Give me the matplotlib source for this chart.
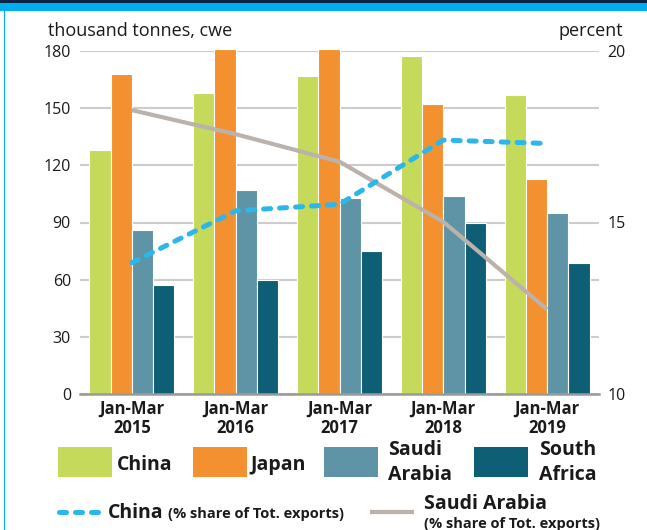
import matplotlib
matplotlib.use("Agg")
import matplotlib.pyplot as plt
import numpy as np
from matplotlib.patches import Rectangle
from matplotlib.lines import Line2D

plt.rcParams['font.family'] = ['Open Sans', 'DejaVu Sans']

# ---- data ----
categories = ['Jan-Mar\n2015', 'Jan-Mar\n2016', 'Jan-Mar\n2017', 'Jan-Mar\n2018', 'Jan-Mar\n2019']
china = [128, 158, 167, 177, 157]
japan = [168, 181, 181, 152, 113]
saudi_arabia = [86, 107, 103, 104, 95]
south_africa = [57, 60, 75, 90, 69]
china_share = [13.83, 15.34, 15.53, 17.40, 17.30]
saudi_share = [18.27, 17.57, 16.77, 15.02, 12.47]
left_ticks = [0, 30, 60, 90, 120, 150, 180]
right_ticks = [10, 15, 20]

series = [china, japan, saudi_arabia, south_africa]
colors = ['#c5d95a', '#f39130', '#5e94a5', '#0e5e75']
names = ['China', 'Japan', 'Saudi\nArabia', 'South\nAfrica']
line_blue = '#2bb7ea'
line_grey = '#bab2ab'
txt = '#1a1a1a'

W, H = 647, 530
fig = plt.figure(figsize=(W / 100, H / 100), dpi=100)

def fx(px):
    return px / W

def fy(py):
    return 1 - py / H

ax = fig.add_axes([fx(80), fy(394.3), fx(599) - fx(80), fy(50.7) - fy(394.3)])
x = np.arange(len(categories))
bw = 0.205
offsets = [-1.5, -0.5, 0.5, 1.5]
for vals, col, off in zip(series, colors, offsets):
    ax.bar(x + off * bw, vals, width=bw, color=col, edgecolor='white', linewidth=0.8,
           zorder=2, clip_on=False)

ax.set_xlim(-0.5, len(categories) - 0.5)
ax.set_ylim(0, 180)
ax.set_yticks(left_ticks)
ax.set_xticks(x)
ax.set_xticklabels(categories, fontsize=12, fontweight='bold', color=txt, linespacing=1.05)
ax.yaxis.grid(True, color='#cccccc', linewidth=1.5, zorder=0)
ax.set_axisbelow(True)
for s in ['top', 'right', 'left']:
    ax.spines[s].set_visible(False)
ax.spines['bottom'].set_color('#9a9a9a')
ax.spines['bottom'].set_linewidth(1.8)
ax.spines['bottom'].set_zorder(3)
ax.tick_params(axis='y', length=0, pad=6.5, labelsize=11.5, labelcolor=txt)
ax.tick_params(axis='x', length=0, pad=4)

ax2 = ax.twinx()
ax2.set_ylim(10, 20)
ax2.set_yticks(right_ticks)
for s in ax2.spines.values():
    s.set_visible(False)
ax2.tick_params(axis='y', length=0, pad=6, labelsize=11.5, labelcolor=txt)
ax2.plot(x, saudi_share, color=line_grey, lw=3.0, solid_capstyle='butt', zorder=3)
ax2.plot(x, china_share, color=line_blue, lw=3.6, dashes=(1.4, 1.8),
         dash_capstyle='round', zorder=4)

# axis unit labels
fig.text(fx(48), fy(31), 'thousand tonnes, cwe', fontsize=13, color=txt, va='center', ha='left')
fig.text(fx(623), fy(31), 'percent', fontsize=13, color=txt, va='center', ha='right')

# frame decoration
fig.add_artist(Rectangle((0, fy(3)), 1, fy(0) - fy(3), transform=fig.transFigure,
                         color='#0b2346', lw=0))
fig.add_artist(Rectangle((0, fy(11)), 1, fy(3) - fy(11), transform=fig.transFigure,
                         color='#00aeef', lw=0))
fig.add_artist(Rectangle((fx(3.5), 0), fx(1.5), fy(11), transform=fig.transFigure,
                         color='#00aeef', lw=0))

# legend row 1 (patches)
patch_x = [58, 193, 324, 474]
text_x = [117, 250, 388, 539]
for px, tx, col, nm in zip(patch_x, text_x, colors, names):
    fig.add_artist(Rectangle((fx(px), fy(477)), fx(54), fy(447) - fy(477),
                             transform=fig.transFigure, color=col, lw=0))
    parts = nm.split('\n')
    if len(parts) == 1:
        fig.text(fx(tx), fy(470), parts[0], fontsize=14, fontweight='bold', color=txt, va='baseline')
    else:
        fig.text(fx(tx), fy(455), parts[0], fontsize=14, fontweight='bold', color=txt, va='baseline')
        fig.text(fx(tx), fy(480), parts[1], fontsize=14, fontweight='bold', color=txt, va='baseline')

# legend row 2 (lines)
fig.add_artist(Line2D([fx(59), fx(98)], [fy(512), fy(512)], transform=fig.transFigure,
                      color=line_blue, lw=3.6, dashes=(1.4, 1.8), dash_capstyle='round'))
fig.text(fx(108), fy(518), 'China', fontsize=14, fontweight='bold', color=txt, va='baseline')
fig.text(fx(168), fy(518), '(% share of Tot. exports)', fontsize=10.5, fontweight='bold', color=txt, va='baseline')
fig.add_artist(Line2D([fx(370), fx(414)], [fy(512), fy(512)], transform=fig.transFigure,
                      color=line_grey, lw=3.0, solid_capstyle='butt'))
fig.text(fx(424), fy(509), 'Saudi Arabia', fontsize=14, fontweight='bold', color=txt, va='baseline')
fig.text(fx(424), fy(528), '(% share of Tot. exports)', fontsize=10.5, fontweight='bold', color=txt, va='baseline')

fig.savefig('out.png', dpi=100)
